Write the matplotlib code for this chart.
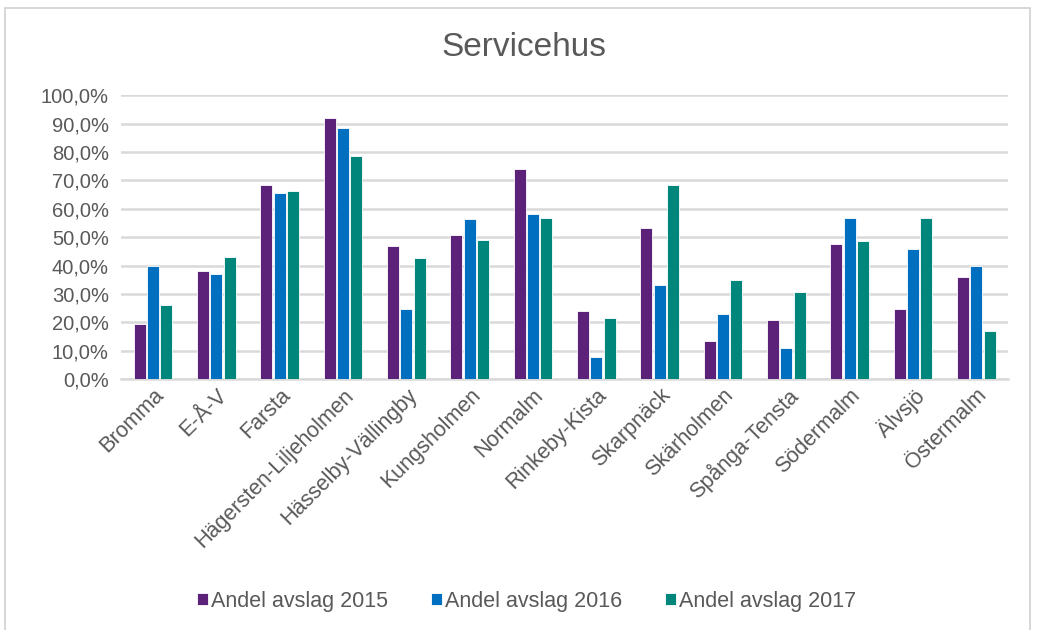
import matplotlib.pyplot as plt
import numpy as np
from matplotlib.patches import Rectangle
from matplotlib.ticker import FuncFormatter

plt.rcParams['font.family'] = ['Liberation Sans', 'DejaVu Sans']

# Stadsdelar and share of rejections (%)
districts = ['Bromma', 'E-Å-V', 'Farsta', 'Hägersten-Liljeholmen',
             'Hässelby-Vällingby', 'Kungsholmen', 'Normalm', 'Rinkeby-Kista',
             'Skarpnäck', 'Skärholmen', 'Spånga-Tensta', 'Södermalm',
             'Älvsjö', 'Östermalm']
avslag_2015 = [19.4, 38.2, 68.4, 92.1, 46.9, 50.7, 74.0, 24.1, 53.1, 13.3, 21.0, 47.7, 24.9, 36.1]
avslag_2016 = [39.8, 36.9, 65.5, 88.4, 24.6, 56.3, 58.1, 7.8, 33.1, 23.1, 11.1, 56.9, 46.0, 39.8]
avslag_2017 = [26.1, 43.1, 66.4, 78.6, 42.7, 48.9, 56.9, 21.6, 68.4, 35.1, 30.7, 48.6, 56.9, 17.0]

series = [('Andel avslag 2015', avslag_2015, '#5C2178'),
          ('Andel avslag 2016', avslag_2016, '#006FC0'),
          ('Andel avslag 2017', avslag_2017, '#00867B')]

text_col = '#595959'

fig = plt.figure(figsize=(10.37, 6.30), dpi=100)
# outer chart frame
fig.patches.append(Rectangle((5 / 1037, -0.01), 1025 / 1037, 1 - 8 / 630 + 0.01,
                             transform=fig.transFigure, fill=False,
                             edgecolor='#D0D0D0', linewidth=1.2))

ax = fig.add_axes([0.117, 0.398, 0.855, 0.451])
x = np.arange(len(districts))
width = 0.19
offsets = [-0.21, 0, 0.21]
for (label, vals, col), off in zip(series, offsets):
    ax.bar(x + off, np.array(vals) / 100, width, color=col, label=label,
           edgecolor='white', linewidth=0.6, zorder=3)

ax.set_xlim(-0.5, len(districts) - 0.5)
ax.set_ylim(0, 1.0)
ax.set_yticks(np.arange(0, 1.01, 0.1))
ax.yaxis.set_major_formatter(FuncFormatter(lambda v, p: f'{v * 100:.1f}%'.replace('.', ',')))
ax.grid(axis='y', color='#D9D9D9', linewidth=1.8, zorder=0)
for s in ['top', 'right', 'left']:
    ax.spines[s].set_visible(False)
ax.spines['bottom'].set_color('#D9D9D9')
ax.spines['bottom'].set_linewidth(1.8)
ax.tick_params(axis='x', length=0, labelsize=15.5, colors=text_col, pad=4)
ax.tick_params(axis='y', length=0, labelsize=14.5, colors=text_col, pad=9)
ax.set_xticks(x)
ax.set_xticklabels(districts, rotation=45, ha='right', rotation_mode='anchor')

fig.text(0.505, 0.925, 'Servicehus', ha='center', va='center', fontsize=24, color=text_col)

handles, labels = ax.get_legend_handles_labels()
fig.legend(handles, labels, loc='center', bbox_to_anchor=(0.508, 0.046), ncol=3,
           frameon=False, fontsize=15.5, labelcolor=text_col, handlelength=0.5,
           handleheight=0.5, handletextpad=0.15, columnspacing=2.0)

plt.savefig('out.png', dpi=100)
